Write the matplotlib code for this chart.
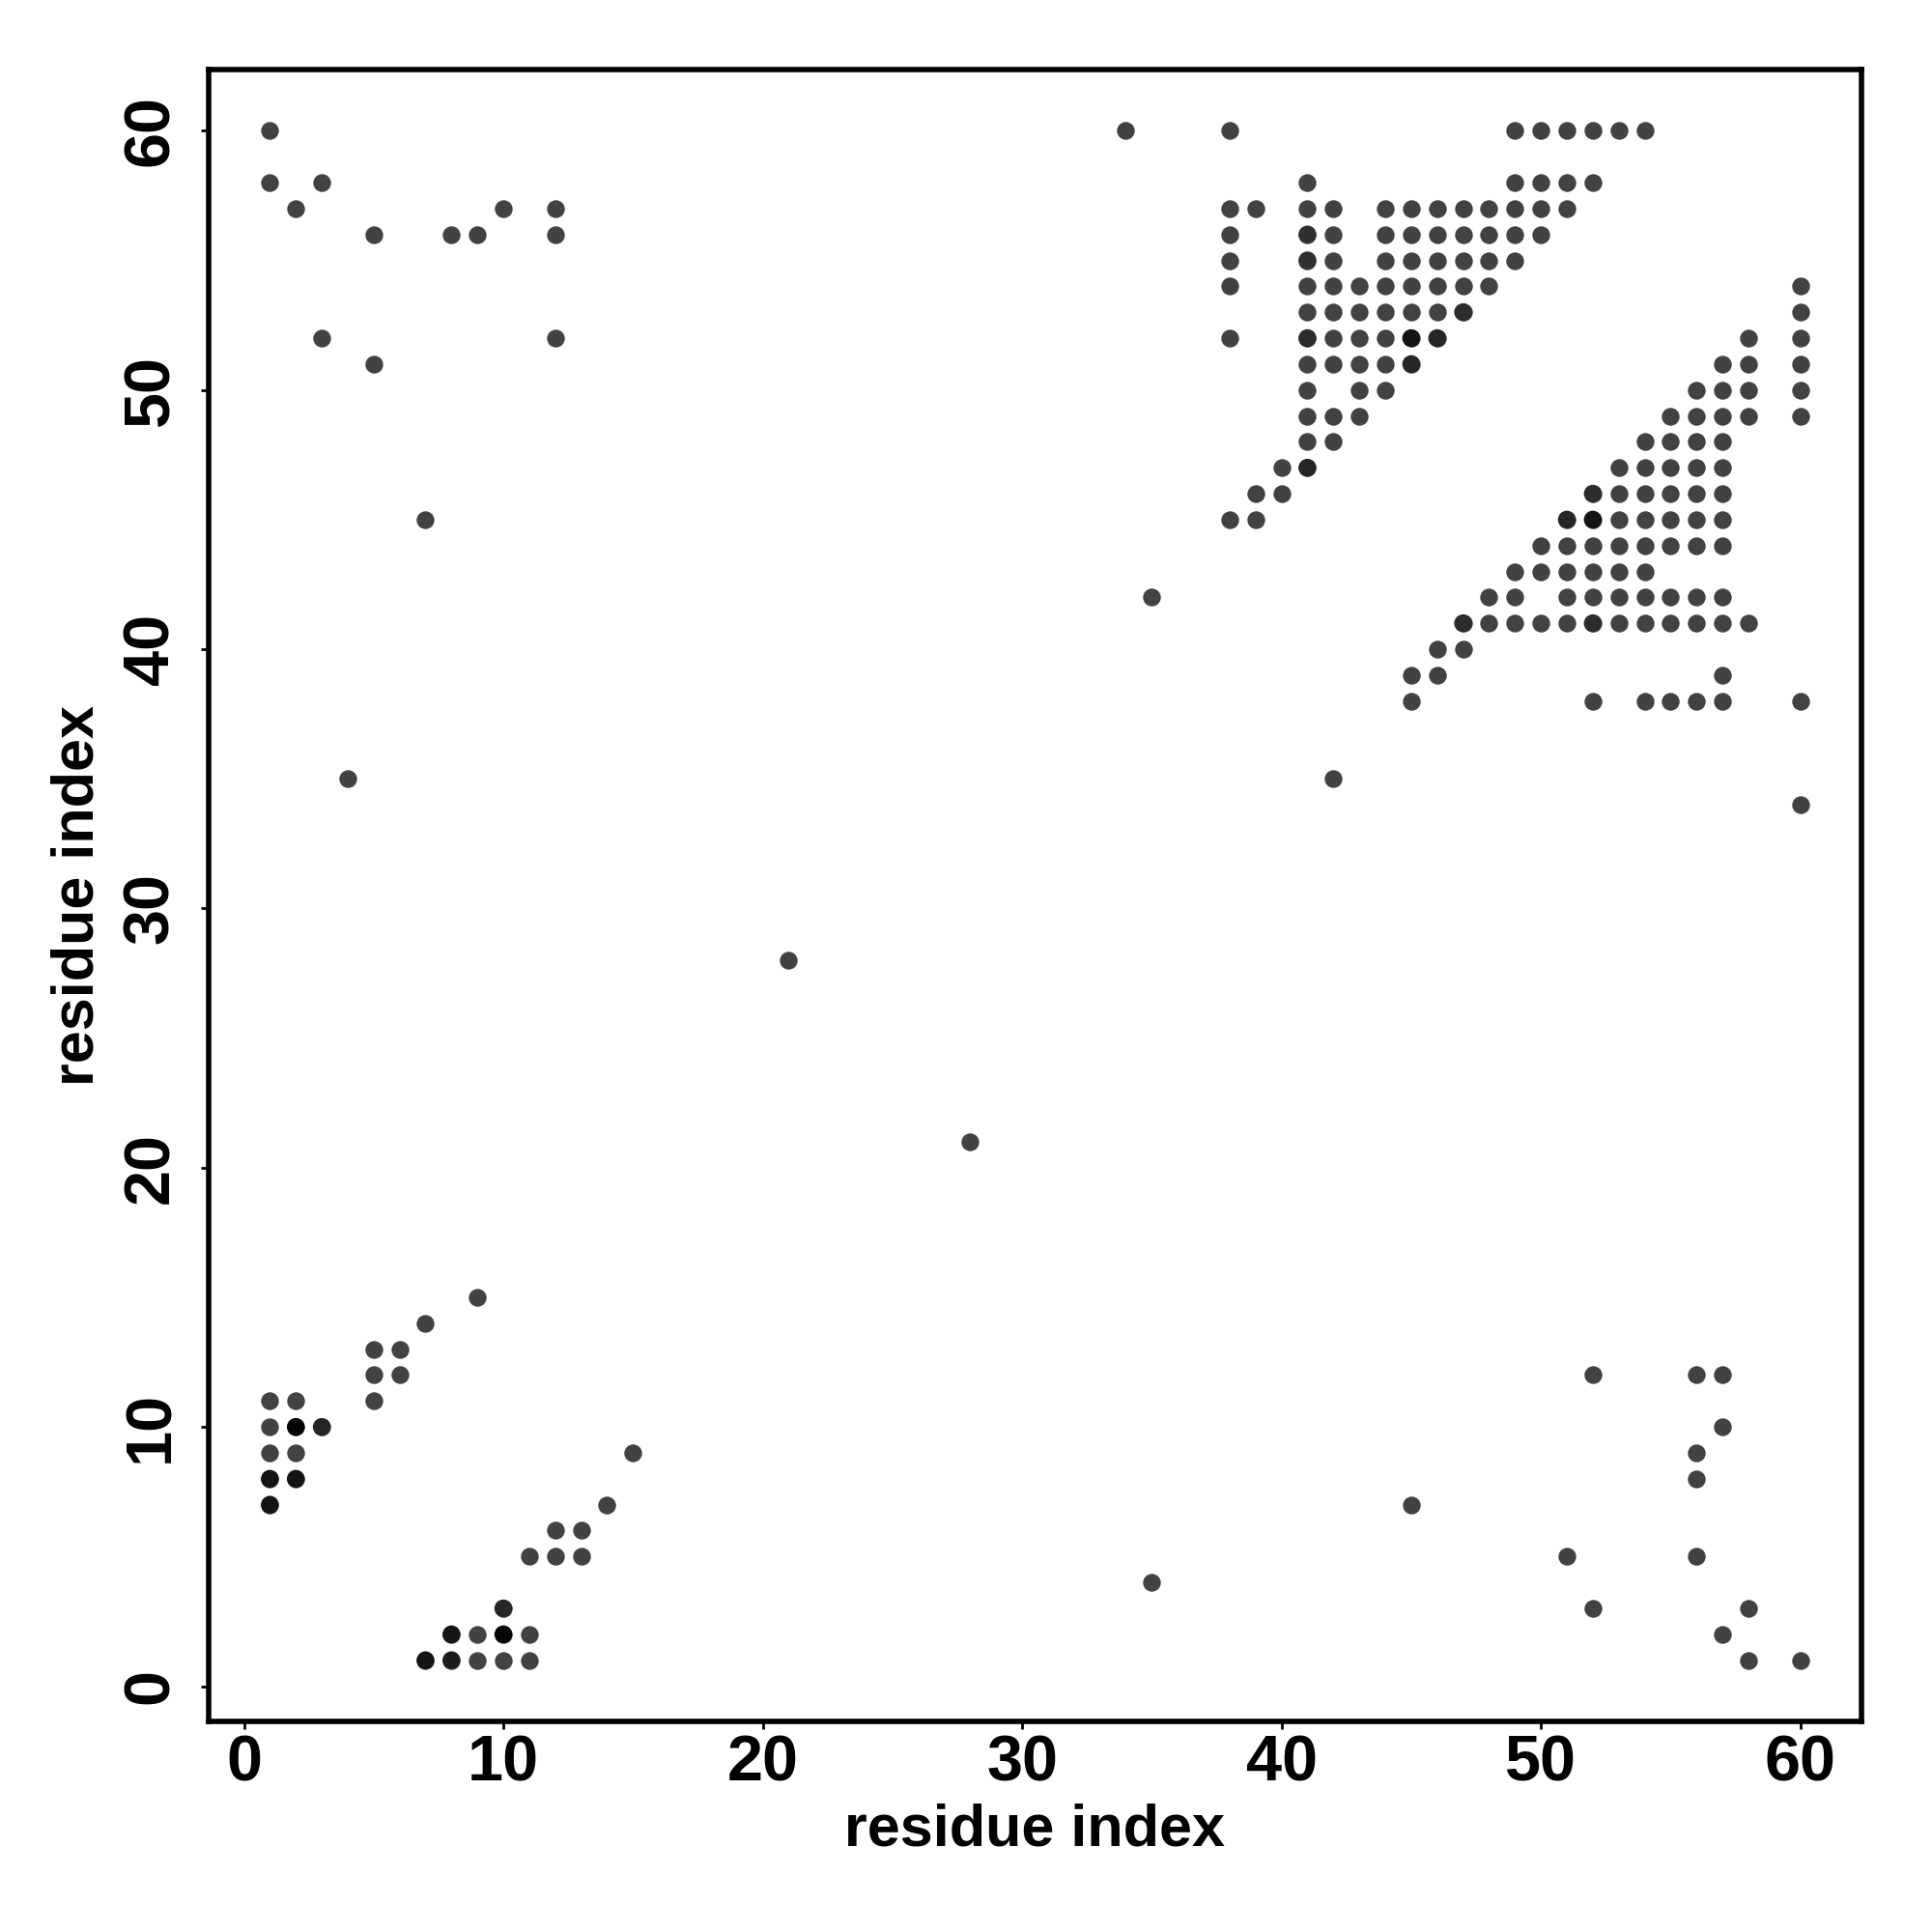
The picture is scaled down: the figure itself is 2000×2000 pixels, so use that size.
import matplotlib.pyplot as plt
from matplotlib import font_manager

# contact map: for each residue index on y, the residue indices on x that are in contact
row_y = [60, 58, 57, 56, 55, 54, 53, 52, 51, 50, 49, 48, 47, 46, 45, 44, 43, 42, 41,
         40, 39, 38, 35, 34, 28, 21, 15, 14, 13, 12, 11, 10, 9, 8, 7, 6, 5, 4, 3, 2, 1]
row_x = [
    [1, 34, 38, 49, 50, 51, 52, 53, 54],
    [1, 3, 41, 49, 50, 51, 52],
    [2, 10, 12, 38, 39, 41, 42, 44, 45, 46, 47, 48, 49, 50, 51],
    [5, 8, 9, 12, 38, 41, 42, 44, 45, 46, 47, 48, 49, 50],
    [38, 41, 42, 44, 45, 46, 47, 48, 49],
    [38, 41, 42, 43, 44, 45, 46, 47, 48, 60],
    [41, 42, 43, 44, 45, 46, 47, 60],
    [3, 12, 38, 41, 42, 43, 44, 45, 46, 58, 60],
    [5, 41, 42, 43, 44, 45, 57, 58, 60],
    [41, 43, 44, 56, 57, 58, 60],
    [41, 42, 43, 55, 56, 57, 58, 60],
    [41, 42, 54, 55, 56, 57],
    [40, 41, 53, 54, 55, 56, 57],
    [39, 40, 52, 53, 54, 55, 56, 57],
    [7, 38, 39, 51, 52, 53, 54, 55, 56, 57],
    [50, 51, 52, 53, 54, 55, 56, 57],
    [49, 50, 51, 52, 53, 54],
    [35, 48, 49, 51, 52, 53, 54, 55, 56, 57],
    [47, 48, 49, 50, 51, 52, 53, 54, 55, 56, 57, 58],
    [46, 47],
    [45, 46, 57],
    [45, 52, 54, 55, 56, 57, 60],
    [4, 42],
    [60],
    [21],
    [28],
    [9],
    [7],
    [5, 6],
    [5, 6, 52, 56, 57],
    [1, 2, 5],
    [1, 2, 3, 57],
    [1, 2, 15, 56],
    [1, 2, 56],
    [1, 14, 45],
    [12, 13],
    [11, 12, 13, 51, 56],
    [35],
    [10, 52, 58],
    [8, 9, 10, 11, 57],
    [7, 8, 9, 10, 11, 58, 60],
]

# contacts that show darker (overlapping / stronger)
dark_x = [2, 10, 1, 2, 1, 8, 7, 45, 52, 8, 3, 10, 46, 45, 41, 51, 41, 47, 52, 52, 41, 41, 47]
dark_y = [10, 2, 8, 8, 7, 2, 1, 52, 45, 1, 10, 3, 52, 51, 47, 45, 52, 41, 41, 46, 56, 55, 53]
dark_c = ['#050505', '#050505', '#141414', '#141414', '#141414', '#141414', '#141414',
          '#141414', '#141414', '#1c1c1c', '#262626', '#262626', '#262626', '#262626',
          '#262626', '#262626', '#2c2c2c', '#2c2c2c', '#2c2c2c', '#2c2c2c', '#303030',
          '#303030', '#2c2c2c']

xs = []
ys = []
for y, row in zip(row_y, row_x):
    for x in row:
        xs.append(x)
        ys.append(y)

names = {f.name for f in font_manager.fontManager.ttflist}
tick_family = 'Liberation Sans Narrow' if 'Liberation Sans Narrow' in names else 'Liberation Sans'
plt.rcParams['font.family'] = ['Liberation Sans', 'DejaVu Sans']

fig = plt.figure(figsize=(10, 10), dpi=200)
ax = fig.add_axes([0.108, 0.109, 0.8555, 0.855])

ax.scatter(xs, ys, s=44, color='#424242', linewidths=0, zorder=2)
ax.scatter(dark_x, dark_y, s=44, c=dark_c, linewidths=0, zorder=3)

ax.set_xlim(1 - 59 * 0.04, 60 + 59 * 0.04)
ax.set_ylim(1 - 59 * 0.04, 60 + 59 * 0.04)

ticks = [0, 10, 20, 30, 40, 50, 60]
ax.set_xticks(ticks)
ax.set_yticks(ticks)
ax.set_xticklabels([str(t) for t in ticks], family=tick_family, fontweight='bold', fontsize=24)
ax.set_yticklabels([str(t) for t in ticks], family=tick_family, fontweight='bold', fontsize=24,
                   rotation=90, va='center')
ax.tick_params(axis='x', direction='out', length=3, width=1.0, pad=2, color='black')
ax.tick_params(axis='y', direction='out', length=3, width=1.0, pad=7, color='black')

for sp in ax.spines.values():
    sp.set_linewidth(2.0)
    sp.set_color('black')

ax.set_xlabel('residue index', fontsize=22, fontweight='bold', labelpad=3)
ax.set_ylabel('residue index', fontsize=22, fontweight='bold', labelpad=6)

fig.savefig('out.png', dpi=200)
